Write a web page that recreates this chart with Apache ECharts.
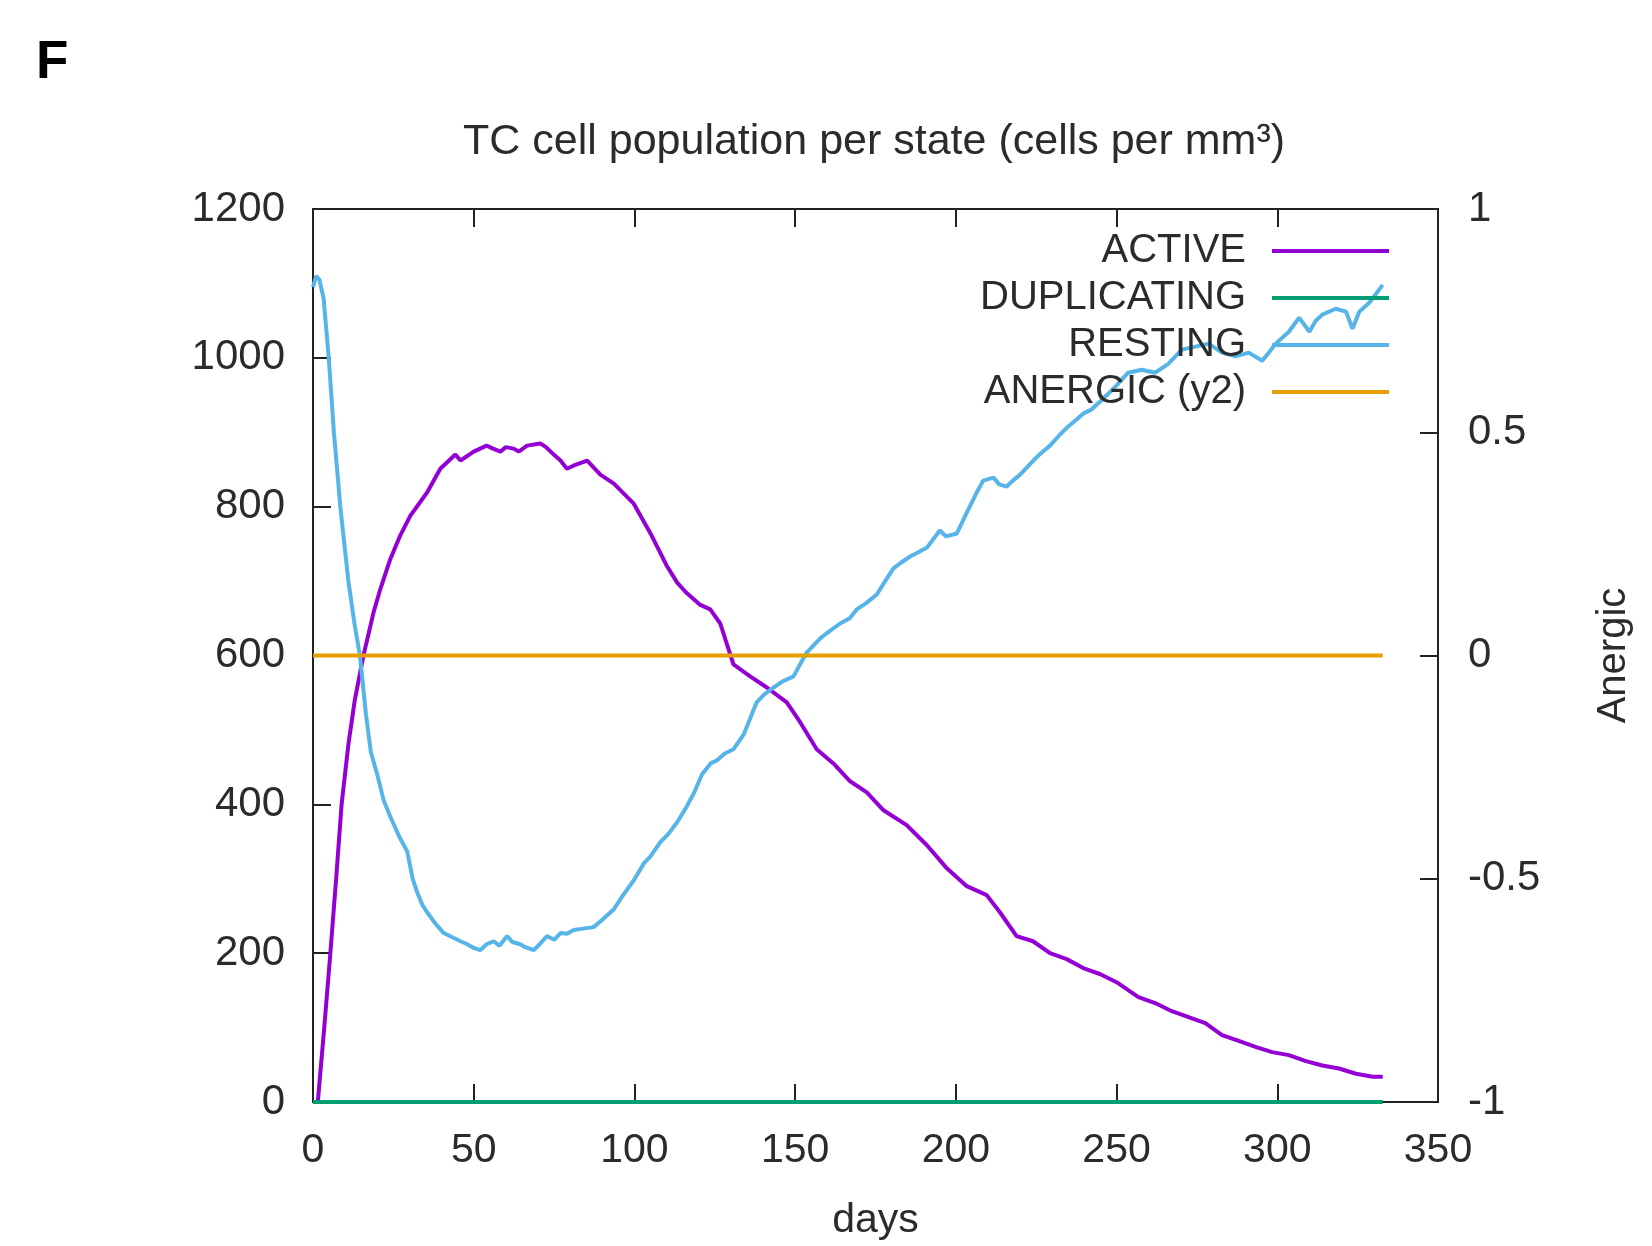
<!DOCTYPE html>
<html>
<head>
<meta charset="utf-8">
<script src="https://cdn.jsdelivr.net/npm/echarts@6/dist/echarts.min.js"></script>
<style>
  html, body { margin: 0; padding: 0; background: #fff; }
  #chart { width: 1652px; height: 1246px; }
</style>
</head>
<body>
<div id="chart"></div>
<script>
// values (days, cells per mm3)
const activeDays = [1.5,3.5,5.4,7.2,8.9,11,13,15.7,18.9,21,24,27,30.3,35.5,39.6,44.3,45.9,50,54,56,58.3,60,62.4,64,66.6,70.7,72.5,74.9,77,79,81,85.3,89.4,93.6,99.8,105,110,113.3,116,120.5,123.6,126.7,130.8,136,141.2,147.4,151.6,156.7,161.9,167.1,172.3,177.5,184.7,191,197.2,203.4,209.6,213.7,218.9,224,229.3,234.5,239.6,244.8,250,256.8,262,267.2,272.4,277.6,282.8,288,293.2,298.4,303.6,308.9,314,319.2,324.5,329.7,332.8];
const activeVals = [0,100,200,300,400,480,540,600,659,690,729,760,788,819,851,870,862,874,882,878,874,880,878,874,882,885,880,870,862,851,855,862,843,831,804,764,721,698,685,668,662,643,588,572,557,537,510,474,455,431,416,392,372,345,314,290,278,255,223,216,200,192,180,172,161,141,133,122,114,106,90,82,74,67,63,55,49,45,38,34,34];

const restingDays = [0,1,2,3.3,4.9,6.5,8.5,11,13,14.6,16.5,18,20,22,24,27,29.3,31,32.4,34,35.5,38,40.7,43,45.9,48,50,52,54,56.2,58,60.4,62,64.5,66,68.7,70.5,72.8,75,77,79,81.1,84,87.3,90,93.6,96,99.8,103,105,108,110.5,113.3,116,118.5,121,123.7,125.6,128,130.8,134,138,140.5,143.3,146,149.5,151.5,153.6,157.8,160.5,164,167,169.2,172,175.4,178,180.6,183,185.8,188,191,195,197,200.3,203.4,206,208.5,211.7,213.5,215.8,218,220,224.1,226,229.3,232,234.5,237,239.6,242,244.8,247,250,253.6,257.8,262,266.1,270.3,274.5,278.6,282.8,287,291.1,295.3,297,299.5,303.6,306.8,310,312,314,318.2,321.4,323.4,325.5,328.6,330.7,332.8];
const restingVals = [1095,1110,1105,1080,1000,900,800,700,640,600,520,470,440,405,384,355,337,300,282,265,255,240,227,222,216,212,207,204,212,216,210,223,215,212,208,204,212,223,218,227,226,231,233,235,245,259,275,298,321,330,349,360,376,395,415,440,455,459,468,474,494,537,548,557,565,572,588,604,623,632,643,650,662,670,682,700,717,725,733,738,745,768,760,764,792,815,835,839,830,827,836,843,862,870,882,895,906,915,925,930,941,950,963,980,984,980,992,1011,1015,1019,1007,1002,1007,996,1005,1019,1035,1054,1035,1050,1058,1066,1062,1039,1062,1074,1086,1098];

const duplicatingDays = [0, 332.8];
const duplicatingVals = [0, 0];
const anergicDays = [0, 332.8];
const anergicVals = [0, 0];

const xTicks = [0, 50, 100, 150, 200, 250, 300, 350];
const yTicks = [0, 200, 400, 600, 800, 1000, 1200];
const y2Ticks = [-1, -0.5, 0, 0.5, 1];

const seriesNames = ['ACTIVE', 'DUPLICATING', 'RESTING', 'ANERGIC (y2)'];
const seriesColors = ['#9400d3', '#009e73', '#56b4e9', '#e69f00'];

function pairs(xs, ys) {
  return xs.map((x, i) => [x, ys[i]]);
}

const font = 'Liberation Sans, Arial, sans-serif';
const textColor = '#2b2b2b';
const axisColor = '#222';

let chart = echarts.init(document.getElementById('chart'), null, { renderer: 'canvas' });

let legendRows = [251, 298, 345, 392];
let legends = seriesNames.map((name, i) => ({
  data: [name],
  orient: 'horizontal',
  align: 'right',
  right: 263,
  top: legendRows[i] - 20,
  padding: 0,
  icon: 'rect',
  itemWidth: 117,
  itemHeight: 4,
  selectedMode: false,
  textStyle: {
    fontFamily: font,
    fontSize: 40,
    color: textColor,
    padding: [0, 21, 0, 0]
  }
}));

let lineSeries = [
  { data: pairs(activeDays, activeVals), yAxisIndex: 0 },
  { data: pairs(duplicatingDays, duplicatingVals), yAxisIndex: 0 },
  { data: pairs(restingDays, restingVals), yAxisIndex: 0 },
  { data: pairs(anergicDays, anergicVals), yAxisIndex: 1 }
].map((s, i) => ({
  name: seriesNames[i],
  type: 'line',
  xAxisIndex: 0,
  yAxisIndex: s.yAxisIndex,
  data: s.data,
  showSymbol: false,
  symbol: 'none',
  lineStyle: { color: seriesColors[i], width: 4 },
  itemStyle: { color: seriesColors[i] },
  z: 3
}));

function plain(v) {
  return String(v);
}

let axisLine = { show: true, onZero: false, lineStyle: { color: axisColor, width: 2 } };
let axisTick = { inside: true, length: 18, lineStyle: { color: axisColor, width: 2 } };

let option = {
  animation: false,
  backgroundColor: '#fff',
  title: {
    text: 'TC cell population per state (cells per mm³)',
    left: 463,
    top: 121,
    padding: 0,
    textStyle: { fontFamily: font, fontSize: 43, fontWeight: 'normal', color: textColor }
  },
  graphic: [{
    type: 'text',
    left: 36,
    top: 37,
    style: { text: 'F', font: 'bold 53px ' + font, fill: '#000' }
  }],
  legend: legends,
  grid: {
    left: 313, right: 214, top: 209, bottom: 142,
    show: true, borderColor: axisColor, borderWidth: 2, backgroundColor: 'transparent'
  },
  xAxis: [{
    type: 'value',
    min: xTicks[0],
    max: xTicks[xTicks.length - 1],
    interval: 50,
    position: 'bottom',
    name: 'days',
    nameLocation: 'middle',
    nameGap: 98,
    nameTextStyle: { fontFamily: font, fontSize: 41, color: textColor },
    axisLine: axisLine,
    axisTick: axisTick,
    axisLabel: { margin: 28, fontFamily: font, fontSize: 41, color: textColor, formatter: plain },
    splitLine: { show: false }
  }, {
    type: 'value',
    min: xTicks[0],
    max: xTicks[xTicks.length - 1],
    interval: 50,
    position: 'top',
    axisLine: axisLine,
    axisTick: axisTick,
    axisLabel: { show: false },
    splitLine: { show: false }
  }],
  yAxis: [{
    type: 'value',
    min: yTicks[0],
    max: yTicks[yTicks.length - 1],
    interval: 200,
    position: 'left',
    axisLine: axisLine,
    axisTick: axisTick,
    axisLabel: { margin: 28, fontFamily: font, fontSize: 42, color: textColor, formatter: plain },
    splitLine: { show: false }
  }, {
    type: 'value',
    min: y2Ticks[0],
    max: y2Ticks[y2Ticks.length - 1],
    interval: 0.5,
    position: 'right',
    name: 'Anergic',
    nameLocation: 'middle',
    nameRotate: 90,
    nameGap: 156,
    nameTextStyle: { fontFamily: font, fontSize: 40, color: textColor },
    axisLine: axisLine,
    axisTick: axisTick,
    axisLabel: { margin: 30, fontFamily: font, fontSize: 42, color: textColor, formatter: plain },
    splitLine: { show: false }
  }],
  series: lineSeries
};

chart.setOption(option);
</script>
</body>
</html>
